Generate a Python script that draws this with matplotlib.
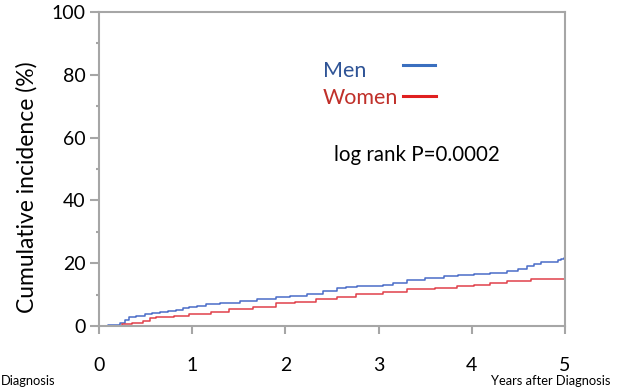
import numpy as np
import matplotlib
matplotlib.use('Agg')
import matplotlib.pyplot as plt

# Datos (años, incidencia acumulada %)
t_men = [0.0, 0.10, 0.22, 0.28, 0.32, 0.40, 0.49, 0.57, 0.65, 0.74, 0.83, 0.90, 0.97, 1.05,
         1.15, 1.30, 1.51, 1.70, 1.90, 2.05, 2.23, 2.40, 2.55, 2.65, 2.77, 3.05, 3.15, 3.30,
         3.50, 3.70, 3.85, 4.02, 4.20, 4.38, 4.50, 4.59, 4.67, 4.74, 4.92, 4.96, 4.99, 5.0]
y_men = [0.0, 0.3, 1.1, 2.0, 2.8, 3.2, 3.7, 4.2, 4.6, 4.9, 5.1, 5.6, 6.0, 6.4,
         6.9, 7.4, 8.0, 8.6, 9.2, 9.6, 10.1, 11.0, 12.0, 12.4, 12.8, 13.0, 13.8, 14.7,
         15.2, 15.8, 16.2, 16.6, 17.0, 17.6, 18.3, 19.2, 19.8, 20.5, 20.9, 21.3, 21.6, 21.6]

t_women = [0.0, 0.11, 0.25, 0.35, 0.47, 0.55, 0.61, 0.80, 0.97, 1.20, 1.40, 1.65, 1.90,
           2.10, 2.33, 2.55, 2.76, 3.05, 3.30, 3.60, 3.84, 4.02, 4.20, 4.38, 4.63, 5.0]
y_women = [0.0, 0.0, 0.5, 1.1, 1.7, 2.4, 3.0, 3.3, 3.7, 4.5, 5.3, 6.2, 7.2,
           7.8, 8.6, 9.3, 10.1, 10.9, 11.7, 12.1, 12.6, 13.1, 13.6, 14.2, 14.9, 15.0]

x_ticks = [0, 1, 2, 3, 4, 5]
y_ticks = [0, 20, 40, 60, 80, 100]

fuente = 'Lato'
gris = '#a6a6a6'

fig = plt.figure(figsize=(6.17, 3.88), dpi=100)
ax = fig.add_axes([0.1605, 0.1598, 0.9157 - 0.1605, 0.9691 - 0.1598])

ax.plot(t_men, y_men, drawstyle='steps-post', color='#4a6cc8', lw=1.1)
ax.plot(t_women, y_women, drawstyle='steps-post', color='#e0404a', lw=1.1)

ax.set_xlim(0, 5)
ax.set_ylim(0, 100)
ax.set_xticks(x_ticks)
ax.set_yticks(y_ticks)
ax.set_yticks([10, 30, 50, 70, 90], minor=True)
ax.set_xticklabels([str(v) for v in x_ticks], fontsize=14, family=fuente)
ax.set_yticklabels([str(v) for v in y_ticks], fontsize=14, family=fuente)

for s in ax.spines.values():
    s.set_color(gris)
    s.set_linewidth(1.5)
ax.tick_params(axis='x', which='major', length=6, width=1.5, color=gris, pad=16, direction='out')
ax.tick_params(axis='y', which='major', length=6.5, width=1.5, color=gris, pad=3, direction='out')
ax.tick_params(axis='y', which='minor', length=2.5, width=1.5, color=gris, direction='out')

ax.set_ylabel('Cumulative incidence (%)', fontsize=16.5, family=fuente)
ax.yaxis.set_label_coords(-0.131, 0.443)

# Leyenda manual
ax.text(0.481, 0.813, 'Men', transform=ax.transAxes, fontsize=15.5, family=fuente,
        color='#2f5496', va='center', ha='left')
ax.plot([0.652, 0.721], [0.83, 0.83], transform=ax.transAxes, color='#3a6fbf', lw=2.2)
ax.text(0.481, 0.727, 'Women', transform=ax.transAxes, fontsize=15.5, family=fuente,
        color='#c0302a', va='center', ha='left')
ax.plot([0.652, 0.723], [0.732, 0.732], transform=ax.transAxes, color='#e02020', lw=2.2)

ax.text(0.504, 0.545, 'log rank P=0.0002', transform=ax.transAxes, fontsize=14.8,
        family=fuente, color='black', va='center', ha='left')

fig.text(0.001, 0.018, 'Diagnosis', fontsize=9.3, family=fuente, ha='left', va='center')
fig.text(0.99, 0.018, 'Years after Diagnosis', fontsize=9.3, family=fuente, ha='right', va='center')

plt.savefig('out.png', dpi=100)
plt.close()
